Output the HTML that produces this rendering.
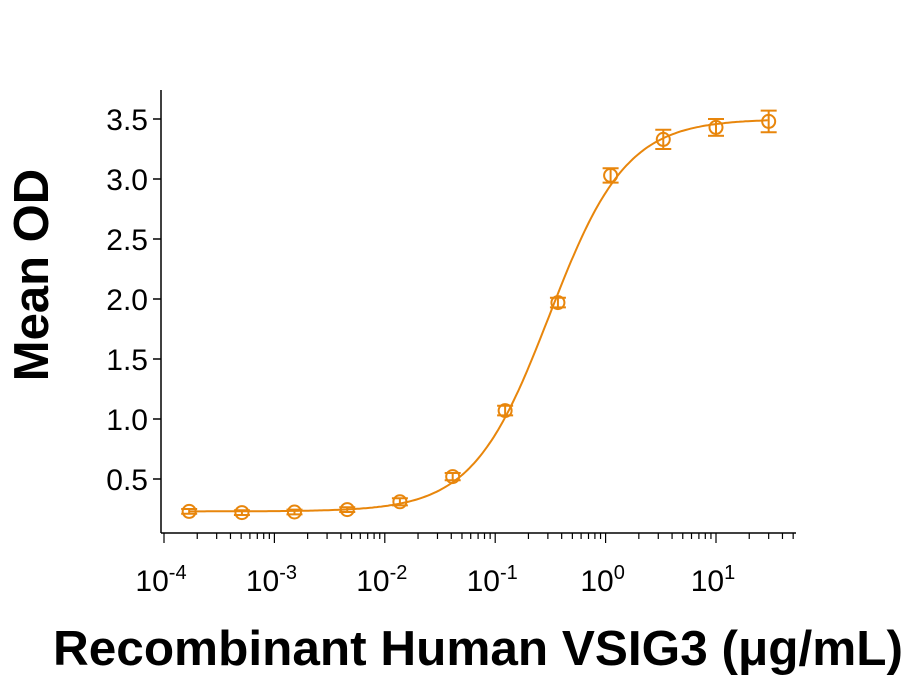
<!DOCTYPE html>
<html><head><meta charset="utf-8"><style>
html,body{margin:0;padding:0;background:#fff}
svg{display:block;font-family:"Liberation Sans",Arial,sans-serif}
</style></head><body>
<svg id="chart" width="909" height="681" viewBox="0 0 909 681">
<g id="axes"></g>
<g id="marks"></g>
<text x="48" y="275" transform="rotate(-90 48 275)" text-anchor="middle" font-size="49" font-weight="bold">Mean OD</text>
<text x="478" y="665" text-anchor="middle" font-size="49" font-weight="bold" textLength="850" lengthAdjust="spacingAndGlyphs">Recombinant Human VSIG3 (μg/mL)</text>
</svg>
<script>
const concentrations=[0.000169,0.000508,0.00152,0.00457,0.0137,0.0412,0.123,0.370,1.11,3.33,10,30];
const meanOD=[0.23,0.22,0.225,0.245,0.31,0.52,1.07,1.97,3.03,3.33,3.43,3.48];
const errorOD=[0.02,0.02,0.02,0.02,0.03,0.03,0.04,0.04,0.06,0.08,0.07,0.09];
const fitParams=[0.23,3.5,0.31,1.25]; // bottom, top, EC50, hill
const yTicks=[0.5,1.0,1.5,2.0,2.5,3.0,3.5];
const yTickLabels=["0.5","1.0","1.5","2.0","2.5","3.0","3.5"];
const xDecades=[-4,-3,-2,-1,0,1];
const NS="http://www.w3.org/2000/svg";
const C="#e8860c";
function xs(v){return 164+(Math.log10(v)+4)*110.4;}
function ys(v){return 119+(3.5-v)*120;}
function mk(tag,attrs,parent){const e=document.createElementNS(NS,tag);for(const k in attrs)e.setAttribute(k,attrs[k]);parent.appendChild(e);return e;}
const axes=document.getElementById('axes'),marks=document.getElementById('marks');
let e=mk('line',{x1:161,y1:90,x2:161,y2:533,stroke:'#000','stroke-width':1.5},axes);


e=mk('line',{x1:161,y1:533,x2:796,y2:533,stroke:'#000','stroke-width':1.5},axes);


yTicks.forEach((t,i)=>{
  const y=ys(t);
  let l=mk('line',{x1:153,y1:y,x2:161,y2:y,stroke:'#000','stroke-width':1.5},axes);
  
  
  let tx=mk('text',{x:148,y:y+11,'text-anchor':'end','font-size':30},axes);
  tx.textContent=yTickLabels[i];
  
  
});
for(let d=-4;d<=1;d++){
  for(let m=1;m<=9;m++){
    const v=m*Math.pow(10,d);const x=xs(v);
    if(x>795)break;
    let l=mk('line',{x1:x,y1:533,x2:x,y2:m===1?543:539,stroke:'#000','stroke-width':1.2},axes);
    
    
  }
}
xDecades.forEach(d=>{
  const x=xs(Math.pow(10,d));
  let t=mk('text',{x:x-3,y:591,'text-anchor':'middle','font-size':30},axes);
  
  
  t.appendChild(document.createTextNode('10'));
  let s=mk('tspan',{dy:-12,'font-size':20},t);s.textContent=String(d);
});
const [b,tp,ec,h]=fitParams;
let pts=[];
for(let lx=Math.log10(concentrations[0]);lx<=Math.log10(concentrations[concentrations.length-1])+1e-9;lx+=0.02){
  const c=Math.pow(10,lx);const v=b+(tp-b)*Math.pow(c/ec,h)/(1+Math.pow(c/ec,h));
  pts.push(xs(c).toFixed(1)+','+ys(v).toFixed(1));
}
e=mk('polyline',{points:pts.join(' '),fill:'none',stroke:C,'stroke-width':2},marks);


concentrations.forEach((c,i)=>{
  const x=xs(c),y=ys(meanOD[i]),y1=ys(meanOD[i]+errorOD[i]),y2=ys(meanOD[i]-errorOD[i]);
  const g=mk('g',{},marks);
  
  
  mk('line',{x1:x,y1:y1,x2:x,y2:y2,stroke:C,'stroke-width':2},g);
  mk('line',{x1:x-8,y1:y1,x2:x+8,y2:y1,stroke:C,'stroke-width':2},g);
  mk('line',{x1:x-8,y1:y2,x2:x+8,y2:y2,stroke:C,'stroke-width':2},g);
  mk('circle',{cx:x,cy:y,r:6.5,fill:'none',stroke:C,'stroke-width':2},g);
});
</script>
</body></html>
